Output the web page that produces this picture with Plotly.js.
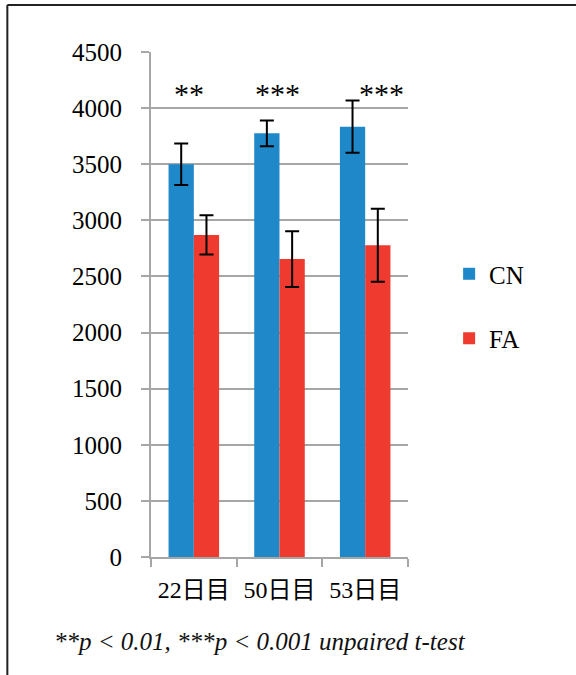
<!DOCTYPE html>
<html>
<head>
<meta charset="utf-8">
<script src="https://cdn.plot.ly/plotly-3.0.1.min.js"></script>
<style>
  html, body { margin: 0; padding: 0; background: #fff; }
  #chart { width: 576px; height: 675px; }
</style>
</head>
<body>
<div id="chart"></div>
<script>
// ---- data ----
const categories = ["22日目", "50日目", "53日目"];
const seriesNames = ["CN", "FA"];
const cnValues = [3500, 3775, 3835];
const cnErrors = [185, 115, 233];
const faValues = [2870, 2655, 2778];
const faErrors = [175, 248, 325];
const starLabels = ["**", "***", "***"];
const yTickValues = [0, 500, 1000, 1500, 2000, 2500, 3000, 3500, 4000, 4500];
const footnote = "**<i>p</i> < 0.01, ***<i>p</i> < 0.001 unpaired <i>t</i>-test";

const serif = "Liberation Serif, Noto Sans CJK JP, serif";

const traces = [
  {
    type: "bar", name: seriesNames[0], x: categories, y: cnValues,
    marker: { color: "#1e88c9" }, legendgroup: "a",
    error_y: { type: "data", array: cnErrors, visible: true, color: "#000", thickness: 2, width: 7 }
  },
  {
    type: "bar", name: seriesNames[1], x: categories, y: faValues,
    marker: { color: "#ee3a2f" }, legendgroup: "b",
    error_y: { type: "data", array: faErrors, visible: true, color: "#000", thickness: 2, width: 7 }
  }
];

const starShifts = [-5, -2, 16];
const annotations = categories.map((c, i) => ({
  x: c, y: 4130, xref: "x", yref: "y", text: starLabels[i], showarrow: false,
  xanchor: "center", yanchor: "middle",
  xshift: starShifts[i], font: { family: serif, size: 30, color: "#000" }
}));
annotations.push({
  x: 0.425, y: -0.168, xref: "paper", yref: "paper", text: "<i>" + footnote + "</i>",
  xanchor: "center", yanchor: "middle",
  showarrow: false, font: { family: serif, size: 25, color: "#111" }
});

const layout = {
  width: 576, height: 675,
  margin: { l: 151, r: 167.5, t: 52, b: 117.7 },
  paper_bgcolor: "#fff", plot_bgcolor: "#fff",
  barmode: "group", bargap: 0.41, bargroupgap: 0,
  showlegend: true,
  legend: {
    x: 1.16, xanchor: "left", y: 0.497, yanchor: "middle",
    font: { family: serif, size: 25, color: "#000" },
    tracegroupgap: 29, bgcolor: "rgba(0,0,0,0)"
  },
  xaxis: {
    type: "category", showline: true, linecolor: "#a6a6a6", linewidth: 2,
    ticks: "outside", tickson: "boundaries", ticklen: 8, tickcolor: "#a6a6a6", tickwidth: 2,
    tickfont: { family: serif, size: 24, color: "#000" }, showgrid: false, ticklabelstandoff: 10
  },
  yaxis: {
    range: [0, 4500], tickvals: yTickValues, showline: true, linecolor: "#a6a6a6", linewidth: 2,
    ticks: "outside", ticklen: 8, tickcolor: "#a6a6a6", tickwidth: 2,
    showgrid: true, gridcolor: "#a6a6a6", gridwidth: 2, zeroline: false,
    tickfont: { family: serif, size: 25, color: "#000" }, ticklabelstandoff: 14
  },
  annotations: annotations,
  shapes: [
    { type: "line", xref: "paper", yref: "paper", x0: -0.559, x1: 1.66, y0: 1.093, y1: 1.093, line: { color: "#222", width: 2 } },
    { type: "line", xref: "paper", yref: "paper", x0: -0.559, x1: -0.559, y0: 1.093, y1: -0.25, line: { color: "#222", width: 2 } }
  ]
};

Plotly.newPlot("chart", traces, layout, { displayModeBar: false, staticPlot: true });
</script>
</body>
</html>
